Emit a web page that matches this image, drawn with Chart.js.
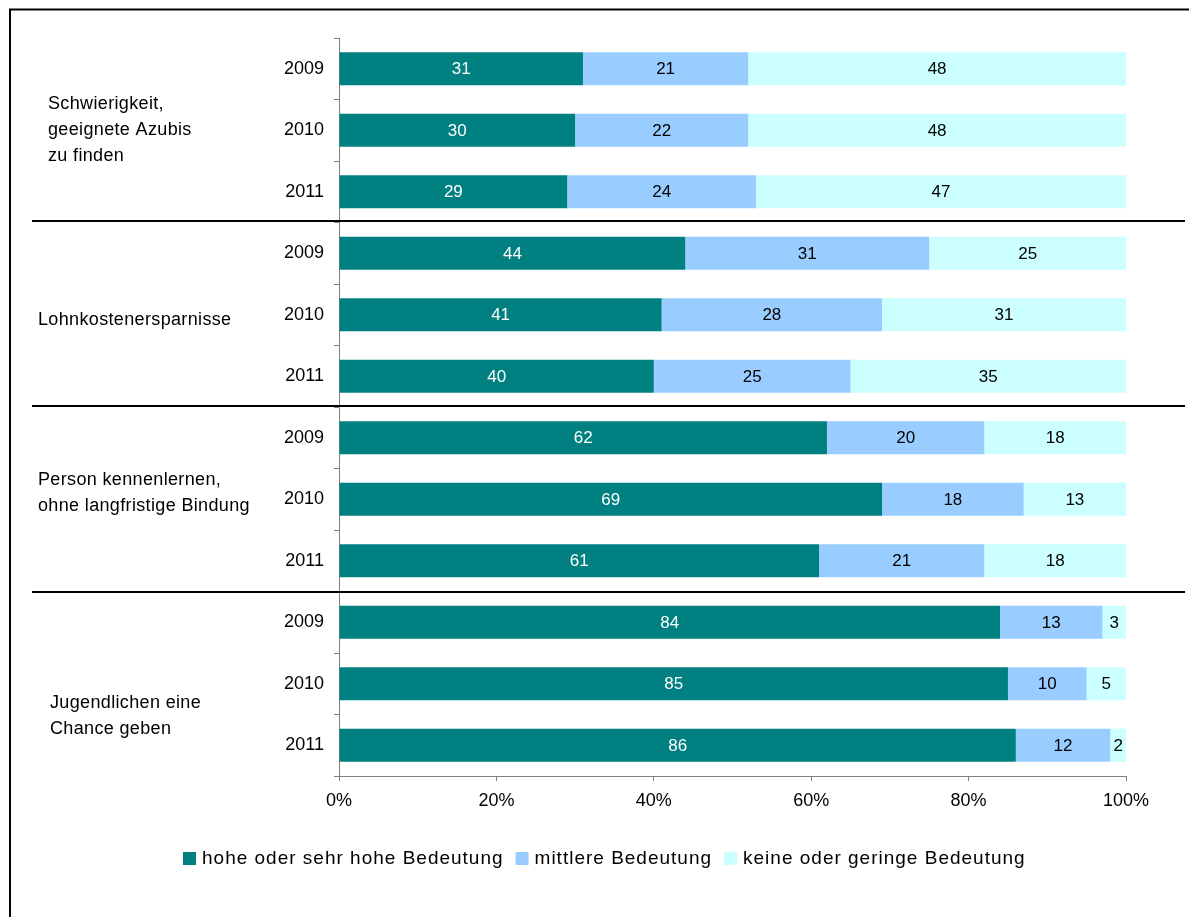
<!DOCTYPE html>
<html>
<head>
<meta charset="utf-8">
<script src="https://cdn.jsdelivr.net/npm/chart.js@4.4.1/dist/chart.umd.min.js"></script>
<style>
  html, body { margin: 0; padding: 0; background: #fff; }
  canvas { display: block; }
</style>
</head>
<body>
<canvas id="chart" width="1189" height="917"></canvas>
<script>
// Werte (Anteile in %)
const years = ['2009', '2010', '2011'];
const groupLabels = [
  ['Schwierigkeit,', 'geeignete Azubis', 'zu finden'],
  ['Lohnkostenersparnisse'],
  ['Person kennenlernen,', 'ohne langfristige Bindung'],
  ['Jugendlichen eine', 'Chance geben']
];
const seriesNames = ['hohe oder sehr hohe Bedeutung', 'mittlere Bedeutung', 'keine oder geringe Bedeutung'];
const hohe     = [31, 30, 29, 44, 41, 40, 62, 69, 61, 84, 85, 86];
const mittlere = [21, 22, 24, 31, 28, 25, 20, 18, 21, 13, 10, 12];
const keine    = [48, 48, 47, 25, 31, 35, 18, 13, 18,  3,  5,  2];
const xTicks = [0, 20, 40, 60, 80, 100];

const colors = ['#008080', '#99ccff', '#ccffff'];
const FONT = "'Liberation Sans', Arial, sans-serif";

const labels = [];
groupLabels.forEach(function() { years.forEach(function(y) { labels.push(y); }); });

// Position der Gruppenbeschriftung (x links, Versatz zur Gruppenmitte)
const groupPos = [
  { x: 48, dy: 0 },
  { x: 38, dy: 5 },
  { x: 38, dy: -6 },
  { x: 50, dy: 32 }
];

const decor = {
  id: 'decor',
  afterDraw(chart) {
    const ctx = chart.ctx;
    const ys = chart.scales.y;
    ctx.save();

    // Rahmen
    ctx.strokeStyle = '#000';
    ctx.lineWidth = 2;
    ctx.beginPath();
    ctx.moveTo(10, 920);
    ctx.lineTo(10, 9.5);
    ctx.lineTo(1192, 9.5);
    ctx.stroke();

    // Trennlinien zwischen den Gruppen
    const sepShift = [0, -2, -1, 0];
    for (let g = 1; g < groupLabels.length; g++) {
      const i = g * years.length;
      const y = Math.round((ys.getPixelForValue(i - 1) + ys.getPixelForValue(i)) / 2) + sepShift[g];
      ctx.beginPath();
      ctx.moveTo(32, y);
      ctx.lineTo(1185, y);
      ctx.stroke();
    }

    // Gruppenbeschriftung
    ctx.fillStyle = '#000';
    ctx.font = '18px ' + FONT;
    ctx.letterSpacing = '0.35px';
    ctx.textAlign = 'left';
    ctx.textBaseline = 'middle';
    groupLabels.forEach(function(lines, g) {
      const mid = ys.getPixelForValue(g * years.length + 1) + groupPos[g].dy;
      const lh = 26;
      const top = mid - (lines.length - 1) * lh / 2;
      lines.forEach(function(t, k) {
        ctx.fillText(t, groupPos[g].x, top + k * lh);
      });
    });

    // Werte in den Balken
    ctx.font = '17px ' + FONT;
    ctx.letterSpacing = '0px';
    ctx.textAlign = 'center';
    chart.data.datasets.forEach(function(ds, d) {
      const meta = chart.getDatasetMeta(d);
      meta.data.forEach(function(el, i) {
        ctx.fillStyle = d === 0 ? '#fff' : '#000';
        ctx.fillText(String(ds.data[i]), (el.x + el.base) / 2, el.y + 1);
      });
    });

    // Legende
    ctx.font = '19px ' + FONT;
    ctx.letterSpacing = '1px';
    ctx.textAlign = 'left';
    const box = 13, gap = 6, itemGap = 12;
    const widths = seriesNames.map(function(n) { return ctx.measureText(n).width; });
    let total = 0;
    widths.forEach(function(w, k) { total += box + gap + w + (k ? itemGap : 0); });
    let x = Math.round(604 - total / 2);
    const ly = 858;
    seriesNames.forEach(function(n, k) {
      ctx.fillStyle = colors[k];
      ctx.fillRect(x, ly - 6, box, box);
      ctx.fillStyle = '#000';
      ctx.fillText(n, x + box + gap, ly + 1);
      x += box + gap + widths[k] + itemGap;
    });

    ctx.restore();
  }
};

new Chart(document.getElementById('chart'), {
  type: 'bar',
  data: {
    labels: labels,
    datasets: [
      { label: seriesNames[0], data: hohe, backgroundColor: colors[0] },
      { label: seriesNames[1], data: mittlere, backgroundColor: colors[1] },
      { label: seriesNames[2], data: keine, backgroundColor: colors[2] }
    ]
  },
  options: {
    indexAxis: 'y',
    responsive: false,
    animation: false,
    categoryPercentage: 1,
    barPercentage: 0.54,
    layout: { padding: { left: 0, top: 38, right: 63, bottom: 0 } },
    plugins: { legend: { display: false }, tooltip: { enabled: false } },
    scales: {
      x: {
        stacked: true,
        min: 0,
        max: 100,
        afterBuildTicks(scale) { scale.ticks = xTicks.map(function(v) { return { value: v }; }); },
        afterFit(scale) { scale.height = 141; },
        ticks: {
          callback: function(v) { return v + '%'; },
          color: '#000',
          font: { family: FONT, size: 18 },
          padding: 9,
          maxRotation: 0
        },
        grid: { drawOnChartArea: false, tickLength: 5, color: '#808080' },
        border: { color: '#808080', width: 1 }
      },
      y: {
        stacked: true,
        afterFit(scale) { scale.width = 339; },
        ticks: {
          color: '#000',
          font: { family: FONT, size: 18 },
          padding: 10
        },
        grid: { drawOnChartArea: false, tickLength: 5, color: '#808080', offset: true },
        border: { color: '#808080', width: 1 }
      }
    }
  },
  plugins: [decor]
});
</script>
</body>
</html>
